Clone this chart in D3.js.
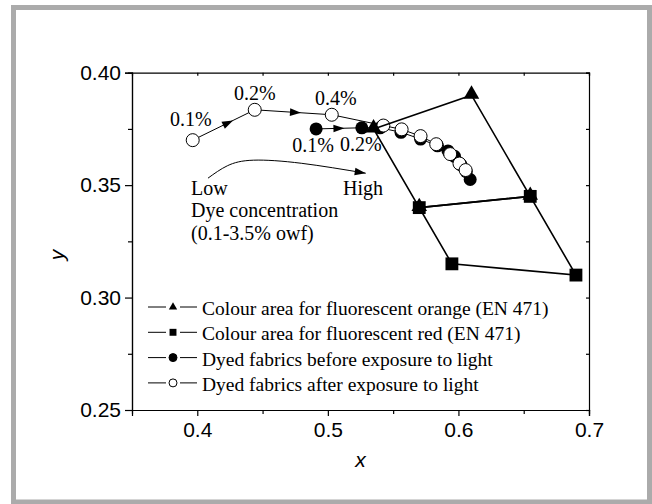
<!DOCTYPE html>
<html>
<head>
<meta charset="utf-8">
<script src="https://cdn.jsdelivr.net/npm/d3@7"></script>
<style>
    body { margin: 0; background: #fff; }
    .tick text { font-family: "Liberation Sans", Arial, sans-serif; font-size: 21px; fill: #000; }
    .serif { font-family: "Liberation Serif", "Times New Roman", serif; font-size: 20px; fill: #000; }
    .axlabel { font-family: "Liberation Sans", Arial, sans-serif; font-size: 21px; font-style: italic; }
</style>
</head>
<body>
<svg id="chart" width="652" height="504"></svg>
<script>
// EN 471 colour areas (x, y chromaticity)
var orangeArea = [[0.535, 0.375], [0.610, 0.390], [0.655, 0.345], [0.570, 0.340]];
var redArea = [[0.570, 0.340], [0.655, 0.345], [0.690, 0.310], [0.595, 0.315]];

// dyed fabrics, 0.1 -> 3.5 % owf
var beforeLight = [[0.491, 0.3750], [0.526, 0.3755], [0.540, 0.3755], [0.556, 0.3735], [0.571, 0.3705],
                   [0.584, 0.3675], [0.592, 0.3652], [0.597, 0.3628], [0.602, 0.3590], [0.606, 0.3560], [0.609, 0.3525]];
var afterLight = [[0.3965, 0.3700], [0.444, 0.3835], [0.503, 0.3813], [0.5425, 0.3765], [0.5565, 0.3748],
                  [0.571, 0.3718], [0.583, 0.3682], [0.5937, 0.3638], [0.6008, 0.3596], [0.6055, 0.3567]];

var afterLabels = ["0.1%", "0.2%", "0.4%"];
var beforeLabels = ["0.1%", "0.2%"];

// Low -> High arrow
var trendCurve = [[0.4082, 0.3531], [0.423, 0.3586], [0.443, 0.3611], [0.480, 0.3597], [0.529, 0.3553]];
var trendText = ["Low", "High", "Dye concentration", "(0.1-3.5% owf)"];

var xTicks = [0.4, 0.5, 0.6, 0.7];
var xMinor = [0.45, 0.55, 0.65];
var yTicks = [0.25, 0.30, 0.35, 0.40];
var yMinor = [0.275, 0.325, 0.375];

var legendNames = ["Colour area for fluorescent orange (EN 471)",
                   "Colour area for fluorescent red (EN 471)",
                   "Dyed fabrics before exposure to light",
                   "Dyed fabrics after exposure to light"];

var params = { left: 132, right: 589, top: 72.7, bottom: 410 };

function arrow_head(svg, p0, p1, frac, len) {
    var tx = p0[0] + frac * (p1[0] - p0[0]);
    var ty = p0[1] + frac * (p1[1] - p0[1]);
    var ang = Math.atan2(p1[1] - p0[1], p1[0] - p0[0]) * 180 / Math.PI;
    svg.append("path")
        .attr("d", "M0,0 L" + (-len) + "," + (-len * 0.35) + " L" + (-len) + "," + (len * 0.35) + " Z")
        .attr("transform", "translate(" + tx + "," + ty + ") rotate(" + ang + ")")
        .attr("fill", "#000");
}

function plot_all() {
    var svg = d3.select("#chart");

    // grey frame
    svg.append("rect")
        .attr("x", 13.5).attr("y", 7.5)
        .attr("width", 636).attr("height", 494.5)
        .attr("fill", "#fff")
        .attr("stroke", "#ababab")
        .attr("stroke-width", 5);

    var x = d3.scaleLinear().domain([0.35, 0.7]).range([params.left, params.right]);
    var y = d3.scaleLinear().domain([0.25, 0.40]).range([params.bottom, params.top]);

    // axes
    var gx = svg.append("g").attr("transform", "translate(0," + params.bottom + ")");
    gx.call(d3.axisBottom(x).tickValues(xTicks).tickSize(6).tickPadding(6).tickFormat(d3.format(".1f")));
    svg.append("g").attr("transform", "translate(0," + params.bottom + ")")
        .call(d3.axisBottom(x).tickValues(xMinor).tickSize(4).tickFormat(""));

    var gy = svg.append("g").attr("transform", "translate(" + params.left + ",0)");
    gy.call(d3.axisLeft(y).tickValues(yTicks).tickSize(7).tickPadding(4).tickFormat(d3.format(".2f")));
    svg.append("g").attr("transform", "translate(" + params.left + ",0)")
        .call(d3.axisLeft(y).tickValues(yMinor).tickSize(4).tickFormat(""));

    svg.append("g").attr("transform", "translate(0," + params.top + ")")
        .call(d3.axisTop(x).tickValues(xTicks.concat(xMinor)).tickSize(-3).tickFormat(""));
    svg.append("g").attr("transform", "translate(" + params.right + ",0)")
        .call(d3.axisRight(y).tickValues(yTicks.concat(yMinor)).tickSize(-3).tickFormat(""));

    svg.selectAll(".domain, .tick line").attr("stroke", "#000").attr("stroke-width", 1.2);

    svg.append("text").attr("class", "axlabel")
        .attr("x", (params.left + params.right) / 2).attr("y", 467)
        .attr("text-anchor", "middle").text("x");
    svg.append("text").attr("class", "axlabel")
        .attr("transform", "translate(64,255) rotate(-90)")
        .attr("text-anchor", "middle").text("y");

    var line = d3.line().x(function(d) { return x(d[0]); }).y(function(d) { return y(d[1]); });

    // dyed fabrics: before (filled) then after (open)
    svg.append("path").attr("d", line(beforeLight))
        .attr("fill", "none").attr("stroke", "#000").attr("stroke-width", 1);
    svg.selectAll(".before").data(beforeLight).enter().append("circle")
        .attr("class", "before")
        .attr("cx", function(d) { return x(d[0]); })
        .attr("cy", function(d) { return y(d[1]); })
        .attr("r", 6.5).attr("fill", "#000");

    svg.append("path").attr("d", line(afterLight))
        .attr("fill", "none").attr("stroke", "#000").attr("stroke-width", 1);
    svg.selectAll(".after").data(afterLight).enter().append("circle")
        .attr("class", "after")
        .attr("cx", function(d) { return x(d[0]); })
        .attr("cy", function(d) { return y(d[1]); })
        .attr("r", 6.5).attr("fill", "#fff").attr("stroke", "#000").attr("stroke-width", 1);

    // arrows along the first steps
    var px = function(d) { return [x(d[0]), y(d[1])]; };
    arrow_head(svg, px(afterLight[0]), px(afterLight[1]), 0.65, 11);
    arrow_head(svg, px(afterLight[1]), px(afterLight[2]), 0.6, 11);
    arrow_head(svg, px(beforeLight[0]), px(beforeLight[1]), 0.62, 11);

    // EN 471 areas
    [orangeArea, redArea].forEach(function(area) {
        svg.append("path").attr("d", line(area) + "Z")
            .attr("fill", "none").attr("stroke", "#000").attr("stroke-width", 1.6);
    });
    var tri = d3.symbol().type(d3.symbolTriangle).size(105);
    var sq = d3.symbol().type(d3.symbolSquare).size(165);
    svg.selectAll(".sq").data(redArea).enter().append("path")
        .attr("d", sq)
        .attr("transform", function(d) { return "translate(" + x(d[0]) + "," + y(d[1]) + ")"; });
    svg.selectAll(".tri").data(orangeArea).enter().append("path")
        .attr("d", tri)
        .attr("transform", function(d) { return "translate(" + x(d[0]) + "," + (y(d[1]) - 1) + ")"; });

    // concentration labels
    var afterOff = [[-2, -14], [0, -10], [4, -10]];
    afterLabels.forEach(function(t, i) {
        svg.append("text").attr("class", "serif")
            .attr("x", x(afterLight[i][0]) + afterOff[i][0])
            .attr("y", y(afterLight[i][1]) + afterOff[i][1])
            .attr("text-anchor", "middle").text(t);
    });
    var beforeOff = [[-3, 23], [-1, 23]];
    beforeLabels.forEach(function(t, i) {
        svg.append("text").attr("class", "serif")
            .attr("x", x(beforeLight[i][0]) + beforeOff[i][0])
            .attr("y", y(beforeLight[i][1]) + beforeOff[i][1])
            .attr("text-anchor", "middle").text(t);
    });

    // low -> high curve
    var curve = d3.line().curve(d3.curveNatural)
        .x(function(d) { return x(d[0]); }).y(function(d) { return y(d[1]); });
    svg.append("path").attr("d", curve(trendCurve))
        .attr("fill", "none").attr("stroke", "#000").attr("stroke-width", 1);
    var n = trendCurve.length;
    arrow_head(svg, px(trendCurve[n - 2]), px(trendCurve[n - 1]), 1.0, 11);

    svg.append("text").attr("class", "serif").attr("x", 191).attr("y", 195).text(trendText[0]);
    svg.append("text").attr("class", "serif").attr("x", 343).attr("y", 195).text(trendText[1]);
    svg.append("text").attr("class", "serif").attr("x", 191).attr("y", 217).text(trendText[2]);
    svg.append("text").attr("class", "serif").attr("x", 191).attr("y", 240).text(trendText[3]);

    // legend
    var legendSym = [
        d3.symbol().type(d3.symbolTriangle).size(30),
        d3.symbol().type(d3.symbolSquare).size(48),
        null, null
    ];
    legendNames.forEach(function(name, i) {
        var ly = 307 + i * 25.3;
        var g = svg.append("g");
        g.append("line").attr("x1", 148).attr("x2", 166).attr("y1", ly).attr("y2", ly)
            .attr("stroke", "#000").attr("stroke-width", 1);
        g.append("line").attr("x1", 180).attr("x2", 197).attr("y1", ly).attr("y2", ly)
            .attr("stroke", "#000").attr("stroke-width", 1);
        if (legendSym[i]) {
            g.append("path").attr("d", legendSym[i])
                .attr("transform", "translate(173," + ly + ")");
        } else {
            g.append("circle").attr("cx", 173).attr("cy", ly).attr("r", 4)
                .attr("fill", i == 2 ? "#000" : "#fff").attr("stroke", "#000");
        }
        g.append("text").attr("class", "serif")
            .style("font-size", "19.5px")
            .attr("x", 202).attr("y", ly + 8).text(name);
    });
}

plot_all();
</script>
</body>
</html>
